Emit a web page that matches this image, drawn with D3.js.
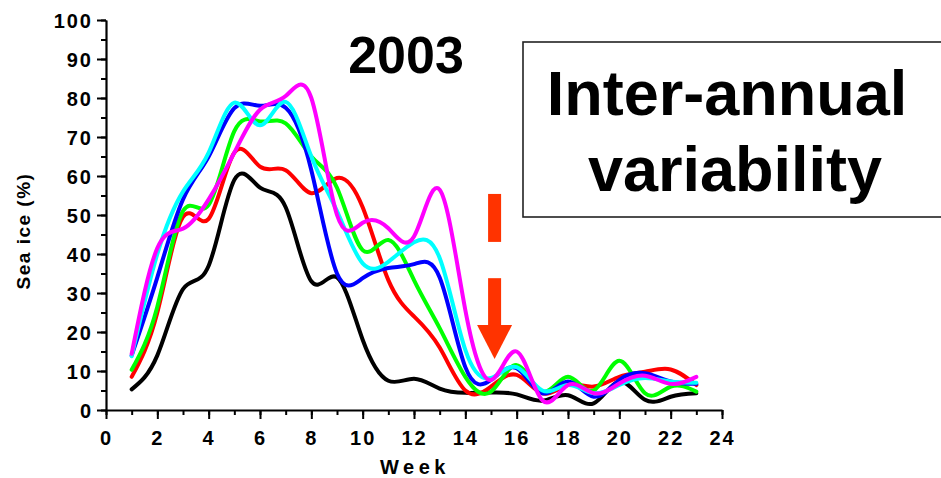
<!DOCTYPE html>
<html><head><meta charset="utf-8">
<script src="https://cdn.jsdelivr.net/npm/d3@7"></script>
<style>
html,body{margin:0;padding:0;background:#fff;}
svg{display:block;font-family:"Liberation Sans",Arial,sans-serif;}
</style></head>
<body>
<svg id="c" width="941" height="478"></svg>
<script>
const weeks = d3.range(1, 24);
const black   = [5.3, 14, 31, 37, 59, 57, 52, 33, 34, 18, 7.5, 8, 5.5, 4.4, 4.5, 4, 2.4, 3.8, 1.7, 7.3, 2.6, 3.4, 4.3];
const red     = [8.5, 25, 49.5, 49, 66, 62.4, 61.5, 55.6, 59.5, 52, 33.3, 24, 16, 5, 6, 9, 4.3, 6.4, 6, 8.5, 9.8, 10.4, 6.4];
const green   = [10.3, 26.5, 51, 52.6, 71.5, 74, 73.5, 65, 57, 41, 43.6, 33.3, 21, 8.5, 4.7, 11.5, 4.7, 8.5, 5, 12.6, 4.3, 6, 4.7];
const blue    = [14, 34, 54, 65, 77.4, 78, 77.5, 61.5, 35, 33.8, 36.4, 37.4, 34, 11, 7.7, 10.7, 4.3, 7.3, 3.4, 7.7, 9.4, 7.3, 6.7];
const cyan    = [13.8, 40, 56, 66, 78.8, 73, 79, 65, 51, 37.6, 38, 43, 39, 15.4, 8.2, 11, 5, 6.4, 4.3, 6.4, 8.2, 7.3, 7];
const magenta = [14.4, 41.5, 46.5, 54, 66, 77, 80.5, 80, 50, 48, 46.6, 44.5, 56.5, 25.6, 7.7, 15, 2.5, 6.4, 4.3, 6.8, 8.8, 6.7, 8.5];
const seriesNames  = ["black", "red", "green", "blue", "cyan", "magenta"];
const seriesValues = [black, red, green, blue, cyan, magenta];
const seriesColors = ["#000000", "#ff0000", "#00ff00", "#0000ff", "#00ffff", "#ff00ff"];
const xMajorTicks = d3.range(0, 25, 2);
const xMinorTicks = d3.range(0, 25, 1);
const yMajorTicks = d3.range(0, 101, 10);
const yMinorTicks = d3.range(0, 101, 5);
const titleText = "2003";
const boxLines = ["Inter-annual", "variability"];
const xLabel = "Week";
const yLabel = "Sea ice (%)";
// arrow annotation in data units
const arrowWeek = 15.14;
const arrowDash = [55.4, 43.1];
const arrowShaft = [33.8, 21.8];
const arrowTip = 13.1;

const svg = d3.select("#c");
const x = d3.scaleLinear().domain([0, 24]).range([106, 722]);
const y = d3.scaleLinear().domain([0, 100]).range([410, 20]);

// axes
const tickFont = "bold 20px 'Liberation Sans', Arial, sans-serif";
const gx = svg.append("g").attr("transform", `translate(0,${y(0)})`);
gx.call(d3.axisBottom(x).tickValues(xMinorTicks).tickSize(5).tickSizeOuter(0).tickFormat(""));
gx.call(g => g.selectAll(".tick line").attr("stroke-width", 2));
const gx2 = svg.append("g").attr("transform", `translate(0,${y(0)})`);
gx2.call(d3.axisBottom(x).tickValues(xMajorTicks).tickSize(9).tickSizeOuter(0).tickPadding(6).tickFormat(d3.format("d")));
gx2.selectAll(".tick line").attr("stroke-width", 2);
gx2.select(".domain").attr("stroke-width", 2.2);
gx2.selectAll(".tick text").attr("fill", "#000").style("font", tickFont).style("letter-spacing", "2px").attr("dy", "1.0em");

const gy = svg.append("g").attr("transform", `translate(${x(0)},0)`);
gy.call(d3.axisLeft(y).tickValues(yMinorTicks).tickSize(5).tickSizeOuter(0).tickFormat(""));
gy.selectAll(".tick line").attr("stroke-width", 2);
const gy2 = svg.append("g").attr("transform", `translate(${x(0)},0)`);
gy2.call(d3.axisLeft(y).tickValues(yMajorTicks).tickSize(9).tickSizeOuter(0).tickPadding(6).tickFormat(d3.format("d")));
gy2.selectAll(".tick line").attr("stroke-width", 2);
gy2.select(".domain").attr("stroke-width", 2.2);
gy2.selectAll(".tick text").attr("fill", "#000").style("font", tickFont).style("letter-spacing", "2px").attr("dx", "2px").attr("dy", "0.36em");

// axis labels
svg.append("text").attr("x", 415).attr("y", 474).attr("text-anchor", "middle")
  .style("font", "bold 20px 'Liberation Sans', Arial, sans-serif").style("letter-spacing", "4.5px").text(xLabel);
svg.append("text").attr("transform", "translate(30,231) rotate(-90)").attr("text-anchor", "middle")
  .style("font", "bold 19px 'Liberation Sans', Arial, sans-serif").style("letter-spacing", "1.5px").text(yLabel);

// lines
const line = d3.line().x((d, i) => x(weeks[i])).y(d => y(d)).curve(d3.curveNatural);
seriesValues.forEach((vals, k) => {
  svg.append("path").datum(vals).attr("d", line).attr("fill", "none")
    .attr("stroke", seriesColors[k]).attr("stroke-width", 4).attr("stroke-linecap", "round").attr("stroke-linejoin", "round")
    .attr("class", "series-" + seriesNames[k]);
});

// arrow
const ac = "#ff3300";
const ax = x(arrowWeek);
const shaftW = 13, headHalf = 17.5;
svg.append("rect").attr("x", ax - shaftW / 2).attr("y", y(arrowDash[0])).attr("width", shaftW).attr("height", y(arrowDash[1]) - y(arrowDash[0])).attr("fill", ac);
svg.append("rect").attr("x", ax - shaftW / 2).attr("y", y(arrowShaft[0])).attr("width", shaftW).attr("height", y(arrowShaft[1]) - y(arrowShaft[0]) + 1).attr("fill", ac);
svg.append("path").attr("d", `M${ax - headHalf},${y(arrowShaft[1])} L${ax + headHalf},${y(arrowShaft[1])} L${ax},${y(arrowTip)} Z`).attr("fill", ac);

// title
svg.append("text").attr("x", 406).attr("y", 73).attr("text-anchor", "middle")
  .style("font", "bold 52px 'Liberation Sans', Arial, sans-serif").text(titleText);

// box
svg.append("rect").attr("x", 523).attr("y", 42).attr("width", 430).attr("height", 175)
  .attr("fill", "#fff").attr("stroke", "#222").attr("stroke-width", 1.6);
svg.append("text").attr("x", 727).attr("y", 115).attr("text-anchor", "middle")
  .style("font", "bold 63px 'Liberation Sans', Arial, sans-serif").text(boxLines[0]);
svg.append("text").attr("x", 735).attr("y", 191).attr("text-anchor", "middle")
  .style("font", "bold 63px 'Liberation Sans', Arial, sans-serif").text(boxLines[1]);
</script>
</body></html>
